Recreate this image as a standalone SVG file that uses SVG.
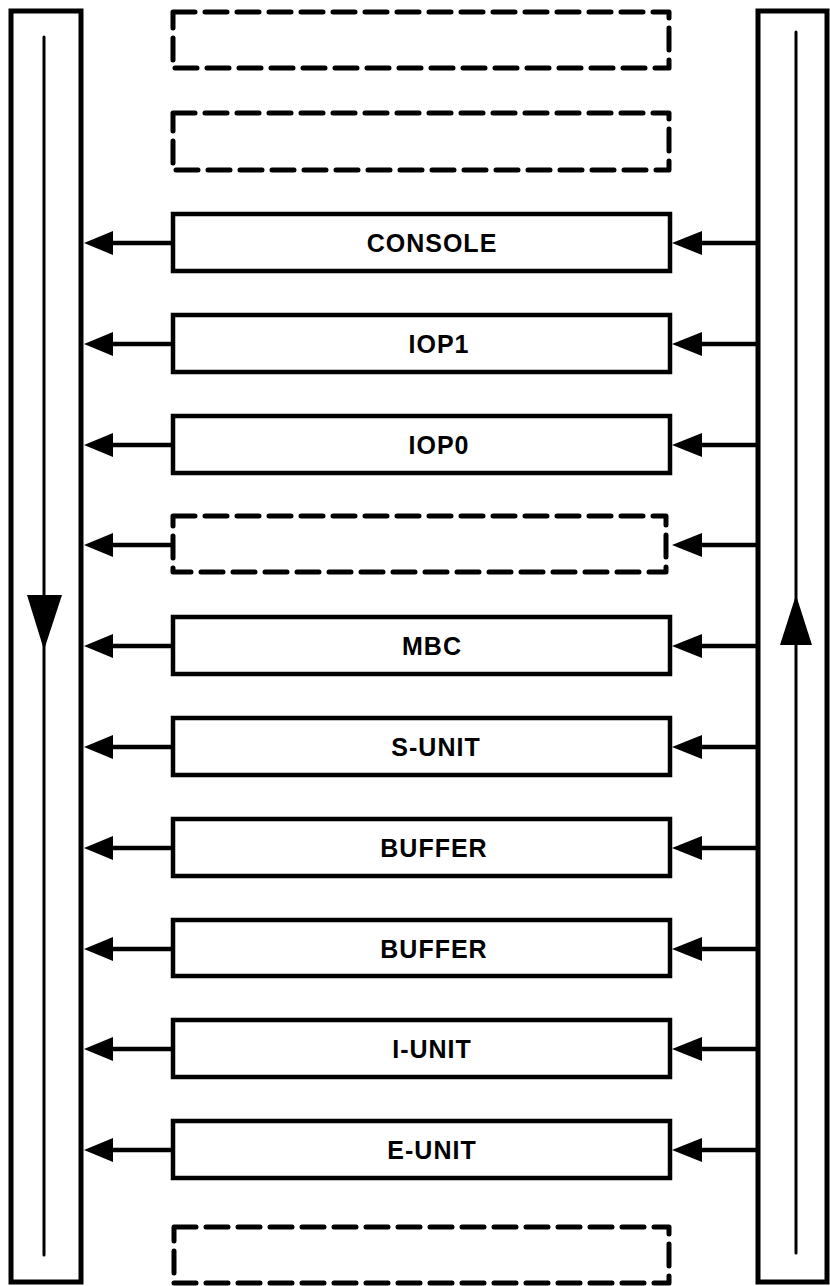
<svg xmlns="http://www.w3.org/2000/svg" width="830" height="1286" viewBox="0 0 830 1286">
<style>
.panel{fill:none;stroke:#000;stroke-width:5}
.bus{fill:none;stroke:#000;stroke-width:3;stroke-linecap:round}
.box{fill:#fff;stroke:#000;stroke-width:4.5}
.dash{fill:none;stroke:#000;stroke-width:5;stroke-dasharray:22 10;stroke-linecap:round;stroke-linejoin:round}
.conn{fill:none;stroke:#000;stroke-width:4.5}
.head{fill:#000}
.lbl{font-family:"Liberation Sans",Arial,sans-serif;font-weight:bold;font-size:25px;letter-spacing:1px;text-anchor:middle;fill:#000}
</style>
<rect width="830" height="1286" fill="#fff"/>
<g id="left-panel">
<rect class="panel" x="11" y="11" width="70" height="1271"/>
<line class="bus" x1="44" y1="37" x2="44" y2="1255"/>
<polygon class="head" points="27,595 62,595 44,650"/>
</g>
<g id="right-panel">
<rect class="panel" x="758" y="11" width="69" height="1271"/>
<line class="bus" x1="796" y1="32" x2="796" y2="1253"/>
<polygon class="head" points="796,595 812,645 780,645"/>
</g>
<g id="connectors">
<g id="c-console"><line class="conn" x1="110" y1="243" x2="173" y2="243"/><polygon class="head" points="84,243 113,231 113,255"/><line class="conn" x1="700" y1="243" x2="758" y2="243"/><polygon class="head" points="672,243 702,231 702,255"/></g>
<g id="c-iop1"><line class="conn" x1="110" y1="344" x2="173" y2="344"/><polygon class="head" points="84,344 113,332 113,356"/><line class="conn" x1="700" y1="344" x2="758" y2="344"/><polygon class="head" points="672,344 702,332 702,356"/></g>
<g id="c-iop0"><line class="conn" x1="110" y1="445" x2="173" y2="445"/><polygon class="head" points="84,445 113,433 113,457"/><line class="conn" x1="700" y1="445" x2="758" y2="445"/><polygon class="head" points="672,445 702,433 702,457"/></g>
<g id="c-empty"><line class="conn" x1="110" y1="545" x2="173" y2="545"/><polygon class="head" points="84,545 113,533 113,557"/><line class="conn" x1="700" y1="545" x2="758" y2="545"/><polygon class="head" points="672,545 702,533 702,557"/></g>
<g id="c-mbc"><line class="conn" x1="110" y1="646" x2="173" y2="646"/><polygon class="head" points="84,646 113,634 113,658"/><line class="conn" x1="700" y1="646" x2="758" y2="646"/><polygon class="head" points="672,646 702,634 702,658"/></g>
<g id="c-sunit"><line class="conn" x1="110" y1="747" x2="173" y2="747"/><polygon class="head" points="84,747 113,735 113,759"/><line class="conn" x1="700" y1="747" x2="758" y2="747"/><polygon class="head" points="672,747 702,735 702,759"/></g>
<g id="c-buffer1"><line class="conn" x1="110" y1="848" x2="173" y2="848"/><polygon class="head" points="84,848 113,836 113,860"/><line class="conn" x1="700" y1="848" x2="758" y2="848"/><polygon class="head" points="672,848 702,836 702,860"/></g>
<g id="c-buffer2"><line class="conn" x1="110" y1="949" x2="173" y2="949"/><polygon class="head" points="84,949 113,937 113,961"/><line class="conn" x1="700" y1="949" x2="758" y2="949"/><polygon class="head" points="672,949 702,937 702,961"/></g>
<g id="c-iunit"><line class="conn" x1="110" y1="1049" x2="173" y2="1049"/><polygon class="head" points="84,1049 113,1037 113,1061"/><line class="conn" x1="700" y1="1049" x2="758" y2="1049"/><polygon class="head" points="672,1049 702,1037 702,1061"/></g>
<g id="c-eunit"><line class="conn" x1="110" y1="1150" x2="173" y2="1150"/><polygon class="head" points="84,1150 113,1138 113,1162"/><line class="conn" x1="700" y1="1150" x2="758" y2="1150"/><polygon class="head" points="672,1150 702,1138 702,1162"/></g>
</g>
<g id="n-empty-top1"><rect class="dash" x="173" y="12" width="496" height="56"/></g>
<g id="n-empty-top2"><rect class="dash" x="173" y="113" width="496" height="57"/></g>
<g id="n-console"><rect class="box" x="173" y="214" width="497" height="57"/><text class="lbl" x="432" y="252">CONSOLE</text></g>
<g id="n-iop1"><rect class="box" x="173" y="315" width="497" height="57"/><text class="lbl" x="439" y="353">IOP1</text></g>
<g id="n-iop0"><rect class="box" x="173" y="416" width="497" height="57"/><text class="lbl" x="439" y="454">IOP0</text></g>
<g id="n-empty-mid"><rect class="dash" x="173" y="516" width="493" height="56"/></g>
<g id="n-mbc"><rect class="box" x="173" y="617" width="497" height="57"/><text class="lbl" x="432" y="655">MBC</text></g>
<g id="n-sunit"><rect class="box" x="173" y="718" width="497" height="57"/><text class="lbl" x="436" y="756">S-UNIT</text></g>
<g id="n-buffer1"><rect class="box" x="173" y="819" width="497" height="57"/><text class="lbl" x="434" y="857">BUFFER</text></g>
<g id="n-buffer2"><rect class="box" x="173" y="920" width="497" height="56"/><text class="lbl" x="434" y="958">BUFFER</text></g>
<g id="n-iunit"><rect class="box" x="173" y="1020" width="497" height="57"/><text class="lbl" x="432" y="1058">I-UNIT</text></g>
<g id="n-eunit"><rect class="box" x="173" y="1121" width="497" height="57"/><text class="lbl" x="432" y="1159">E-UNIT</text></g>
<g id="n-empty-bottom"><rect class="dash" x="174" y="1227" width="495" height="56"/></g>
</svg>
